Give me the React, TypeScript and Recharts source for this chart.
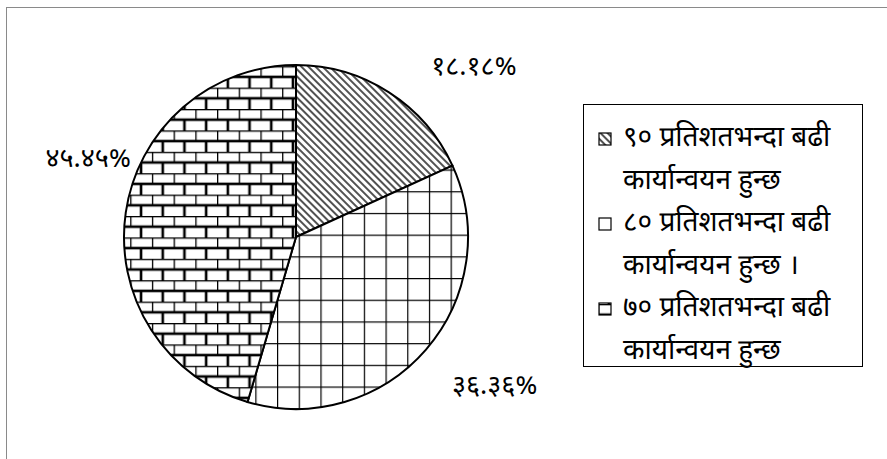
import React from 'react';
import { PieChart, Pie, Cell, Legend } from 'recharts';

const categories = ['९० प्रतिशतभन्दा बढी', '८० प्रतिशतभन्दा बढी', '७० प्रतिशतभन्दा बढी'];
const categoryTails = ['कार्यान्वयन हुन्छ', 'कार्यान्वयन हुन्छ ।', 'कार्यान्वयन हुन्छ'];
const values = [18.18, 36.36, 45.45];
const valueLabels = ['१८.१८%', '३६.३६%', '४५.४५%'];
const patternIds = ['patDiag', 'patGrid', 'patBrick'];
const labelNudges = [
  { dx: 58, dy: 18 },
  { dx: 31, dy: 5 },
  { dx: 12, dy: -45 },
];

const data = categories.map((c, i) => ({ name: c, tail: categoryTails[i], value: values[i], label: valueLabels[i] }));

const FONT = "'Noto Sans Devanagari', 'Noto Sans', 'Lohit Devanagari', sans-serif";

const Patterns = () => (
  <svg width={0} height={0} style={{ position: 'absolute' }}>
    <defs>
      <pattern id="patDiag" patternUnits="userSpaceOnUse" width={5} height={5} patternTransform="rotate(-45)">
        <rect width={5} height={5} fill="#fff" />
        <line x1={1} y1={0} x2={1} y2={5} stroke="#333" strokeWidth={1.7} />
      </pattern>
      <pattern id="patGrid" patternUnits="userSpaceOnUse" x={16.6} y={17.6} width={21.7} height={21.7}>
        <rect width={21.7} height={21.7} fill="#fff" />
        <line x1={0} y1={0} x2={0} y2={21.7} stroke="#000" strokeWidth={2.4} />
        <line x1={0} y1={0} x2={21.7} y2={0} stroke="#000" strokeWidth={2.4} />
      </pattern>
      <pattern id="patBrick" patternUnits="userSpaceOnUse" x={0} y={2} width={21.7} height={21.4}>
        <rect width={21.7} height={21.4} fill="#fff" />
        <line x1={0} y1={0} x2={21.7} y2={0} stroke="#000" strokeWidth={2.6} />
        <line x1={0} y1={10.7} x2={21.7} y2={10.7} stroke="#000" strokeWidth={2.6} />
        <line x1={0} y1={0} x2={0} y2={10.7} stroke="#000" strokeWidth={2.6} />
        <line x1={10.85} y1={10.7} x2={10.85} y2={21.4} stroke="#000" strokeWidth={2.6} />
      </pattern>
    </defs>
  </svg>
);

const RADIAN = Math.PI / 180;

const renderLabel = (props: any) => {
  const { cx, cy, midAngle, outerRadius, index } = props;
  const r = outerRadius + 50;
  const x = cx + r * Math.cos(-midAngle * RADIAN) + labelNudges[index].dx;
  const y = cy + r * Math.sin(-midAngle * RADIAN) + labelNudges[index].dy;
  return (
    <text x={x} y={y} textAnchor="middle" dominantBaseline="central" fontSize={27} fill="#000" fontFamily={FONT}>
      {data[index].label}
    </text>
  );
};

const renderLegend = () => (
  <div
    style={{
      border: '1.5px solid #000',
      width: 280,
      height: 263,
      boxSizing: 'border-box',
      padding: '13px 0 0 14px',
      fontFamily: FONT,
      fontSize: 28,
      color: '#000',
      background: '#fff',
    }}
  >
    {data.map((d, i) => (
      <div key={i} style={{ display: 'flex', alignItems: 'flex-start', lineHeight: '42.5px' }}>
        <svg width={14} height={14} style={{ marginTop: 14, marginRight: 11, flexShrink: 0 }}>
          <rect x={1} y={1} width={12} height={12} fill={`url(#${patternIds[i]})`} stroke="#000" strokeWidth={1.2} />
        </svg>
        <div style={{ whiteSpace: 'nowrap' }}>
          <div>{d.name}</div>
          <div>{d.tail}</div>
        </div>
      </div>
    ))}
  </div>
);

export default function App() {
  return (
    <div style={{ position: 'absolute', left: 0, top: 0, width: 887, height: 459, overflow: 'hidden', background: '#fff' }}>
      <Patterns />
      <div
        style={{
          position: 'absolute',
          left: 6,
          top: 7,
          width: 1000,
          height: 600,
          borderLeft: '1.5px solid #8a8a8a',
          borderTop: '1.5px solid #8a8a8a',
        }}
      />
      <div style={{ position: 'absolute', left: 0, top: 0 }}>
        <PieChart width={887} height={459} margin={{ top: 0, right: 0, bottom: 0, left: 0 }}>
          <Pie
            data={data}
            dataKey="value"
            nameKey="name"
            cx={296}
            cy={237}
            outerRadius={172}
            startAngle={90}
            endAngle={-270}
            stroke="#000"
            strokeWidth={2}
            label={renderLabel}
            labelLine={false}
            isAnimationActive={false}
          >
            {data.map((d, i) => (
              <Cell key={i} fill={`url(#${patternIds[i]})`} />
            ))}
          </Pie>
          <Legend
            content={renderLegend}
            wrapperStyle={{ position: 'absolute', left: 583, top: 104, width: 280, height: 263 }}
          />
        </PieChart>
      </div>
    </div>
  );
}
